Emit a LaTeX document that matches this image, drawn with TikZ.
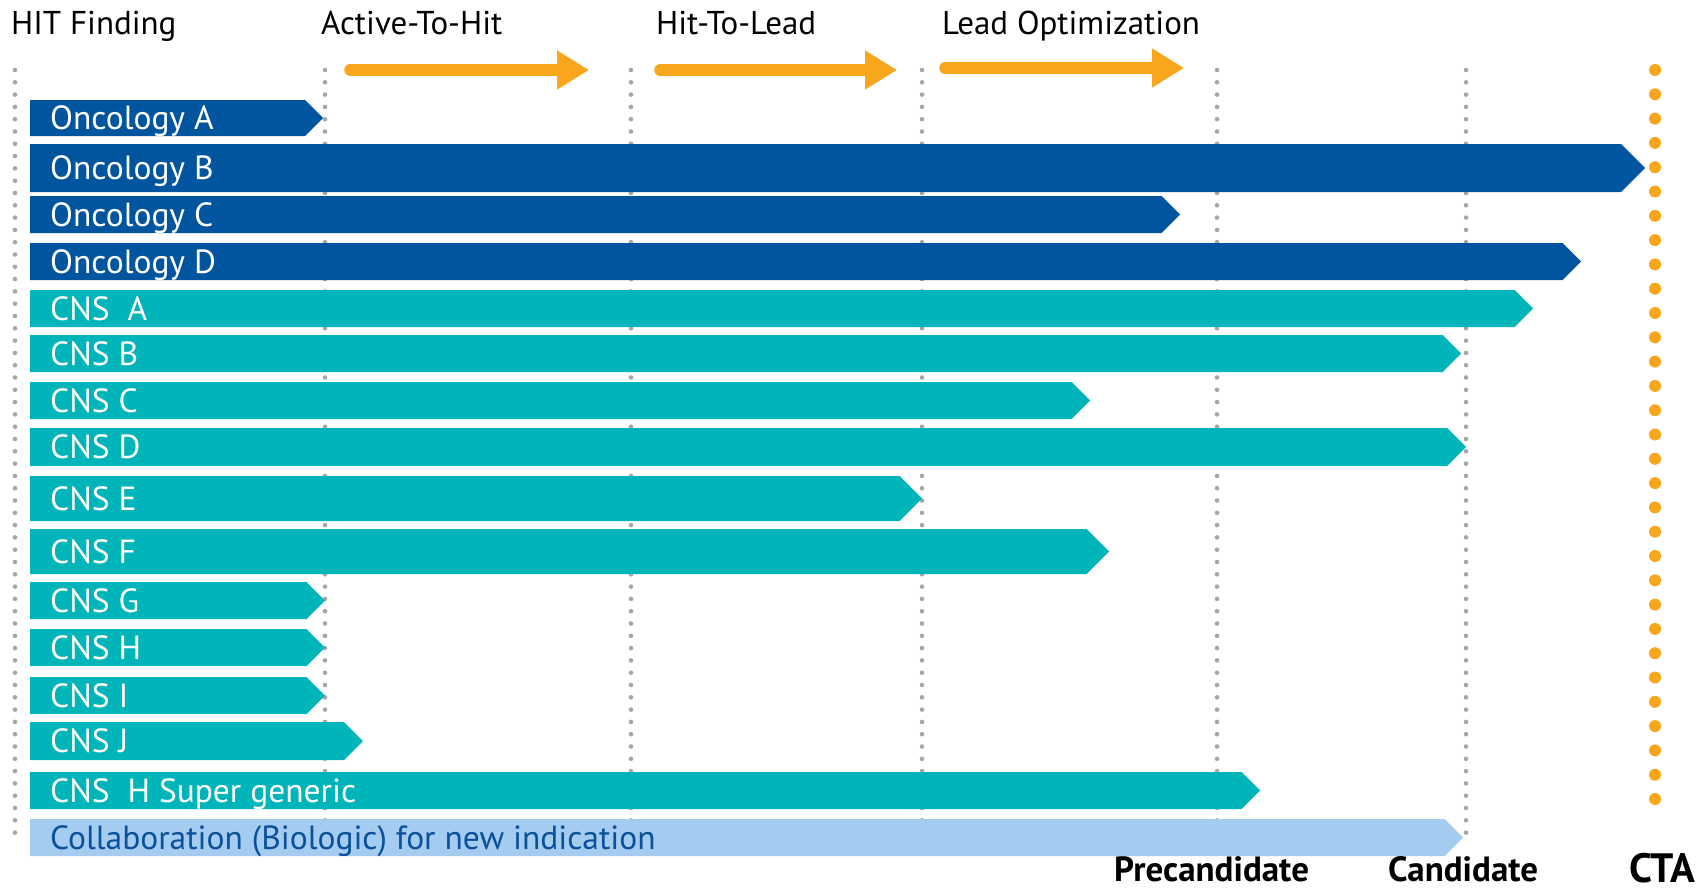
\documentclass[tikz,border=0pt]{standalone}
\usepackage{fontspec}
\setmainfont{PT Sans}
\usetikzlibrary{arrows.meta}

\definecolor{oncblue}{RGB}{0,85,158}
\definecolor{cnsteal}{RGB}{0,181,186}
\definecolor{collblue}{RGB}{164,203,240}
\definecolor{colltext}{RGB}{10,80,155}
\definecolor{phaseorange}{RGB}{249,166,28}
\definecolor{dotgray}{RGB}{166,166,166}

\begin{document}
\begin{tikzpicture}[x=1pt,y=-1pt,
  oncbar/.style={fill=oncblue},
  cnsbar/.style={fill=cnsteal},
  collbar/.style={fill=collblue},
  barlbl/.style={anchor=base west,inner sep=0,text=white,font=\fontsize{33.5}{38}\selectfont},
  phaselbl/.style={anchor=base west,inner sep=0,font=\fontsize{33}{38}\selectfont},
  milelbl/.style={anchor=base west,inner sep=0,font=\bfseries\fontsize{35}{40}\selectfont},
  phasearrow/.style={draw=phaseorange,line width=11.5pt,line cap=round,-{Triangle[length=32pt,width=37pt]}},
  gategrid/.style={draw=dotgray,line width=4.6pt,line cap=round,dash pattern=on 0pt off 12.3pt},
  ctagrid/.style={draw=phaseorange,line width=12pt,line cap=round,dash pattern=on 0pt off 24.3pt}]
\useasboundingbox (0,0) rectangle (1708,889);

% phase headers
\node[phaselbl] (hit) at (11,34) {HIT Finding};
\node[phaselbl] (a2h) at (321,34) {Active-To-Hit};
\node[phaselbl] (h2l) at (656,34) {Hit-To-Lead};
\node[phaselbl] (lo) at (942,34) {Lead Optimization};
\coordinate (a2hs) at (350,70);
\coordinate (a2he) at (589,70);
\coordinate (h2ls) at (660,70);
\coordinate (h2le) at (897,70);
\coordinate (los) at (945,68);
\coordinate (loe) at (1184,68);
\draw[phasearrow] (a2hs) -- (a2he);
\draw[phasearrow] (h2ls) -- (h2le);
\draw[phasearrow] (los) -- (loe);

% gates
\draw[gategrid] (15,70) -- (15,833);
\draw[gategrid] (325,70) -- (325,833);
\draw[gategrid] (631,70) -- (631,833);
\draw[gategrid] (922,70) -- (922,833);
\draw[gategrid] (1217,70) -- (1217,833);
\draw[gategrid] (1466,70) -- (1466,833);
\draw[ctagrid] (1655,70) -- (1655,823);

% projects
\fill[oncbar] (30,100) -- (305,100) -- ++(18,18) -- ++(-18,18) -- (30,136) -- cycle;
\node[barlbl] (oncA) at (50,129.5) {Oncology A};
\fill[oncbar] (30,144) -- (1621,144) -- ++(24,24) -- ++(-24,24) -- (30,192) -- cycle;
\node[barlbl] (oncB) at (50,179.5) {Oncology B};
\fill[oncbar] (30,196) -- (1161.5,196) -- ++(18.5,18.5) -- ++(-18.5,18.5) -- (30,233) -- cycle;
\node[barlbl] (oncC) at (50,226) {Oncology C};
\fill[oncbar] (30,243) -- (1562.5,243) -- ++(18.5,18.5) -- ++(-18.5,18.5) -- (30,280) -- cycle;
\node[barlbl] (oncD) at (50,273) {Oncology D};
\fill[cnsbar] (30,290) -- (1514.5,290) -- ++(18.5,18.5) -- ++(-18.5,18.5) -- (30,327) -- cycle;
\node[barlbl] (cnsA) at (50,320) {CNS\ \ A};
\fill[cnsbar] (30,335) -- (1442.5,335) -- ++(18.5,18.5) -- ++(-18.5,18.5) -- (30,372) -- cycle;
\node[barlbl] (cnsB) at (50,365) {CNS B};
\fill[cnsbar] (30,382) -- (1071.5,382) -- ++(18.5,18.5) -- ++(-18.5,18.5) -- (30,419) -- cycle;
\node[barlbl] (cnsC) at (50,412) {CNS C};
\fill[cnsbar] (30,428) -- (1447,428) -- ++(19,19) -- ++(-19,19) -- (30,466) -- cycle;
\node[barlbl] (cnsD) at (50,458.5) {CNS D};
\fill[cnsbar] (30,476) -- (899.5,476) -- ++(22.5,22.5) -- ++(-22.5,22.5) -- (30,521) -- cycle;
\node[barlbl] (cnsE) at (50,510) {CNS E};
\fill[cnsbar] (30,529) -- (1086.5,529) -- ++(22.5,22.5) -- ++(-22.5,22.5) -- (30,574) -- cycle;
\node[barlbl] (cnsF) at (50,563) {CNS F};
\fill[cnsbar] (30,582) -- (306.5,582) -- ++(18.5,18.5) -- ++(-18.5,18.5) -- (30,619) -- cycle;
\node[barlbl] (cnsG) at (50,612) {CNS G};
\fill[cnsbar] (30,629) -- (306.5,629) -- ++(18.5,18.5) -- ++(-18.5,18.5) -- (30,666) -- cycle;
\node[barlbl] (cnsH) at (50,659) {CNS H};
\fill[cnsbar] (30,677) -- (306.5,677) -- ++(18.5,18.5) -- ++(-18.5,18.5) -- (30,714) -- cycle;
\node[barlbl] (cnsI) at (50,707) {CNS I};
\fill[cnsbar] (30,722) -- (344,722) -- ++(19,19) -- ++(-19,19) -- (30,760) -- cycle;
\node[barlbl] (cnsJ) at (50,752.5) {CNS J};
\fill[cnsbar] (30,772) -- (1241.5,772) -- ++(18.5,18.5) -- ++(-18.5,18.5) -- (30,809) -- cycle;
\node[barlbl] (cnsHsg) at (50,802) {CNS\ \ H Super generic};
\fill[collbar] (30,819) -- (1444.5,819) -- ++(18.5,18.5) -- ++(-18.5,18.5) -- (30,856) -- cycle;
\node[barlbl,text=colltext] (coll) at (50,849) {Collaboration (Biologic) for new indication};

% milestones
\node[milelbl] (precand) at (1114,881) {Precandidate};
\node[milelbl] (cand) at (1388,881) {Candidate};
\node[milelbl,font=\bfseries\fontsize{41}{46}\selectfont] (cta) at (1629,882) {CTA};
\end{tikzpicture}
\end{document}
